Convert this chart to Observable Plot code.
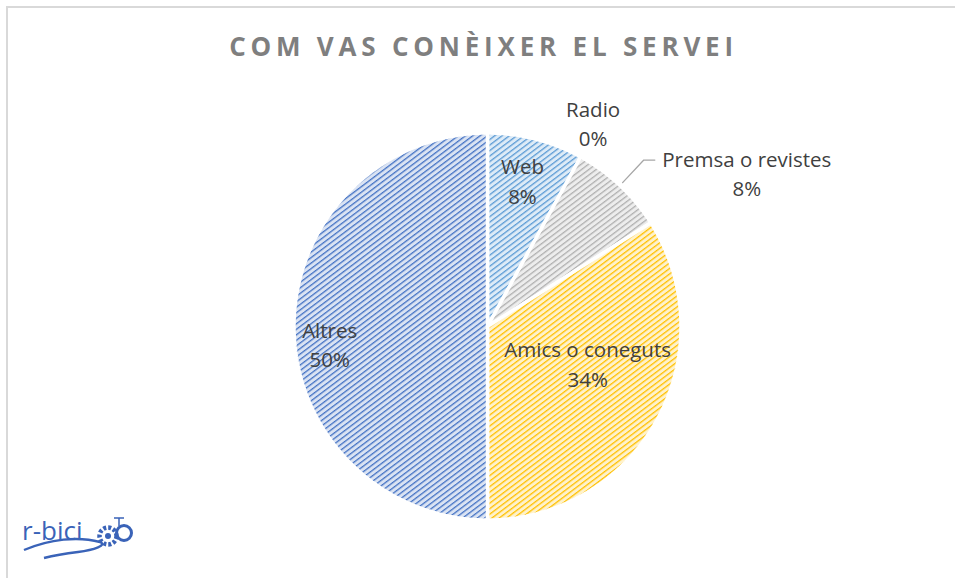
<!DOCTYPE html>
<html>
<head>
<meta charset="utf-8">
<script src="https://cdn.jsdelivr.net/npm/d3@7"></script>
<script src="https://cdn.jsdelivr.net/npm/@observablehq/plot@0.6"></script>
<style>
  html, body { margin: 0; padding: 0; background: #fff; }
  #wrap { position: relative; width: 955px; height: 578px; overflow: hidden; font-family: "Open Sans", sans-serif; }
  #frame { position: absolute; left: 6px; top: 6px; width: 1200px; height: 1200px; border: 2px solid #d9d9d9; box-sizing: border-box; }
  #title { position: absolute; left: 0; width: 955px; top: 28px; padding-left: 6px; text-align: center; font-weight: 700; font-size: 26px; letter-spacing: 4.8px; color: #7f7f7f; }
  #chart { position: absolute; left: 0; top: 0; }
  #logo { position: absolute; left: 16px; top: 506px; }
</style>
</head>
<body>
<div id="wrap">
  <div id="frame"></div>
  <div id="chart"></div>
  <div id="title">COM VAS CONÈIXER EL SERVEI</div>
  <svg id="logo" width="125" height="56" viewBox="0 0 125 56">
    <path d="M8,44 C34,33 62,30 84,36 C92,39 78,44 62,46 C46,48 36,50 28,52" fill="none" stroke="#3a63b8" stroke-width="2.4"/>
    <text x="6" y="34" font-family="Open Sans, sans-serif" font-size="26" fill="#3a63b8" font-weight="400">r-bici</text>
    <circle cx="92" cy="30" r="8.5" fill="none" stroke="#3a63b8" stroke-width="4.5" stroke-dasharray="3 2"/>
    <circle cx="92" cy="30" r="3" fill="#3a63b8"/>
    <circle cx="108" cy="27" r="7.5" fill="none" stroke="#3a63b8" stroke-width="3"/>
    <path d="M98,12 L108,12 M103,12 L103,20" stroke="#3a63b8" stroke-width="1.5"/>
  </svg>
</div>
<script>
// ---- data ----
const categories = ["Web", "Radio", "Premsa o revistes", "Amics o coneguts", "Altres"];
const percents   = [8, 0, 8, 34, 50];
const labelText  = ["8%", "0%", "8%", "34%", "50%"];

// ---- style / layout (not data) ----
const patternIds = ["pWeb", "pRadio", "pPremsa", "pAmics", "pAltres"];
const patternBg  = ["#ddebf7", "#e4ecf9", "#ededed", "#fff2cc", "#dae3f3"];
const patternFg  = ["#5b9bd5", "#4472c4", "#b0b0b0", "#ffc000", "#4472c4"];
// label placement: angle offset (deg) from slice mid-angle, radius as fraction of pie radius
const labelAngleShift = [-1, -1.5, 16, -9, -6];
const labelRadius     = [0.78, 1.19, 1.56, 0.55, 0.82];

// ---- geometry from data ----
const total = d3.sum(percents);
const slices = [];
let acc = 0;
percents.forEach((v, i) => {
  const a0 = acc / total * 2 * Math.PI;
  acc += v;
  const a1 = acc / total * 2 * Math.PI;
  slices.push({name: categories[i], i, a0, a1, mid: (a0 + a1) / 2});
});

const polyPts = [];
for (const s of slices) {
  if (s.a1 - s.a0 <= 0) continue;
  const fill = `url(#${patternIds[s.i]})`;
  polyPts.push({name: s.name, fill, x: 0, y: 0});
  const n = Math.max(2, Math.ceil((s.a1 - s.a0) / (Math.PI / 360)));
  for (let k = 0; k <= n; k++) {
    const a = s.a0 + (s.a1 - s.a0) * k / n;
    polyPts.push({name: s.name, fill, x: Math.sin(a), y: Math.cos(a)});
  }
  polyPts.push({name: s.name, fill, x: 0, y: 0});
}

const labels = slices.map(s => {
  const a = s.mid + labelAngleShift[s.i] * Math.PI / 180;
  const r = labelRadius[s.i];
  return {x: r * Math.sin(a), y: r * Math.cos(a), text: `${s.name}\n${labelText[s.i]}`};
});

// leader line for "Premsa o revistes"
const ps = slices[2];
const leader = [
  {x: 1.02 * Math.sin(ps.mid), y: 1.02 * Math.cos(ps.mid)},
  {x: 1.18 * Math.sin(ps.mid), y: 1.18 * Math.cos(ps.mid)},
  {x: 1.18 * Math.sin(ps.mid) + 0.057, y: 1.18 * Math.cos(ps.mid)}
];

const cx = 487, cy = 326, R = 193.5;
const chart = Plot.plot({
  width: 955,
  height: 578,
  margin: 0,
  x: {domain: [-1, 1], range: [cx - R, cx + R], axis: null},
  y: {domain: [-1, 1], range: [cy + R, cy - R], axis: null},
  color: {type: "identity"},
  style: {background: "transparent", overflow: "visible"},
  marks: [
    Plot.line(polyPts, {x: "x", y: "y", z: "name", fill: "fill", stroke: "white", strokeWidth: 3.5, strokeLinejoin: "miter"}),
    Plot.line(leader, {x: "x", y: "y", stroke: "#a6a6a6", strokeWidth: 1.3}),
    Plot.text(labels, {x: "x", y: "y", text: "text", fill: "#404040", fontSize: 20.5, lineHeight: 1.45, fontFamily: "Open Sans, sans-serif"})
  ]
});

// pattern definitions
const defs = d3.select(chart).insert("defs", ":first-child");
patternIds.forEach((id, i) => {
  const p = defs.append("pattern")
    .attr("id", id)
    .attr("patternUnits", "userSpaceOnUse")
    .attr("width", 8).attr("height", 4.4)
    .attr("patternTransform", "rotate(-37)");
  p.append("rect").attr("width", 8).attr("height", 4.4).attr("fill", patternBg[i]);
  p.append("rect").attr("width", 8).attr("height", 1.3).attr("fill", patternFg[i]);
});

document.getElementById("chart").appendChild(chart);
</script>
</body>
</html>
